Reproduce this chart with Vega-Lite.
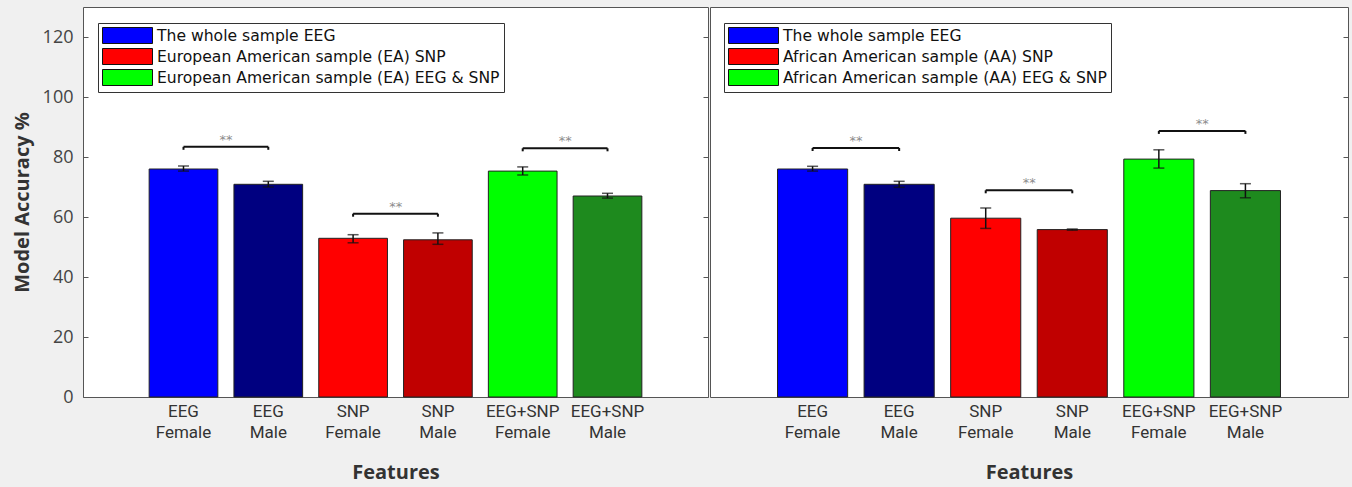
{
  "$schema": "https://vega.github.io/schema/vega-lite/v6.json",
  "background": "#f0f0f0",
  "padding": {"left": 11, "top": 6, "right": 3, "bottom": 4},
  "spacing": 0,
  "datasets": {
    "bars": [
      {"panel": "L", "feature": "EEG Female", "series": "The whole sample EEG", "acc": 76.0, "lo": 75.3, "hi": 77.0},
      {"panel": "L", "feature": "EEG Male", "series": "EEG Male", "acc": 70.9, "lo": 70.0, "hi": 71.9},
      {"panel": "L", "feature": "SNP Female", "series": "European American sample (EA) SNP", "acc": 52.9, "lo": 51.4, "hi": 54.1},
      {"panel": "L", "feature": "SNP Male", "series": "SNP Male", "acc": 52.4, "lo": 50.9, "hi": 54.7},
      {"panel": "L", "feature": "EEG+SNP Female", "series": "European American sample (EA) EEG & SNP", "acc": 75.3, "lo": 74.0, "hi": 76.7},
      {"panel": "L", "feature": "EEG+SNP Male", "series": "EEG+SNP Male", "acc": 67.0, "lo": 66.3, "hi": 67.9},
      {"panel": "R", "feature": "EEG Female", "series": "The whole sample EEG", "acc": 76.0, "lo": 75.3, "hi": 76.9},
      {"panel": "R", "feature": "EEG Male", "series": "EEG Male", "acc": 70.9, "lo": 69.9, "hi": 71.9},
      {"panel": "R", "feature": "SNP Female", "series": "African American sample (AA) SNP", "acc": 59.6, "lo": 56.2, "hi": 63.0},
      {"panel": "R", "feature": "SNP Male", "series": "SNP Male", "acc": 55.8, "lo": 55.6, "hi": 56.0},
      {"panel": "R", "feature": "EEG+SNP Female", "series": "African American sample (AA) EEG & SNP", "acc": 79.3, "lo": 76.3, "hi": 82.4},
      {"panel": "R", "feature": "EEG+SNP Male", "series": "EEG+SNP Male", "acc": 68.8, "lo": 66.4, "hi": 71.1}
    ],
    "brackets": [
      {"panel": "L", "a": "EEG Female", "b": "EEG Male", "y": 83.4, "label": "**"},
      {"panel": "L", "a": "SNP Female", "b": "SNP Male", "y": 61.1, "label": "**"},
      {"panel": "L", "a": "EEG+SNP Female", "b": "EEG+SNP Male", "y": 82.9, "label": "**"},
      {"panel": "R", "a": "EEG Female", "b": "EEG Male", "y": 83.0, "label": "**"},
      {"panel": "R", "a": "SNP Female", "b": "SNP Male", "y": 68.9, "label": "**"},
      {"panel": "R", "a": "EEG+SNP Female", "b": "EEG+SNP Male", "y": 88.7, "label": "**"}
    ]
  },
  "config": {
    "view": {"fill": "white", "stroke": "#555", "strokeWidth": 1},
    "axis": {"grid": false, "domain": false, "tickColor": "#555", "tickWidth": 1},
    "legend": {
      "strokeColor": "#333",
      "fillColor": "white",
      "padding": 4,
      "symbolType": "M-3.125,-1H3.125V1H-3.125Z",
      "symbolSize": 256,
      "symbolStrokeColor": "#111",
      "symbolStrokeWidth": 1,
      "symbolOpacity": 1,
      "symbolOffset": 17,
      "labelOffset": 21,
      "labelFont": "DejaVu Sans",
      "labelFontSize": 15.6,
      "labelColor": "#111",
      "labelLimit": 0,
      "rowPadding": 0,
      "title": null
    }
  },
  "resolve": {"scale": {"color": "independent"}, "legend": {"color": "independent"}},
  "hconcat": [
    {
      "width": 625,
      "height": 390,
      "layer": [
        {
          "data": {"name": "bars"},
          "transform": [{"filter": "datum.panel === 'L'"}],
          "mark": {"type": "bar", "stroke": "#222", "strokeWidth": 1},
          "encoding": {
            "x": {
              "field": "feature", "type": "nominal", "sort": null, "title": "Features",
              "scale": {"domain": ["EEG Female", "EEG Male", "SNP Female", "SNP Male", "EEG+SNP Female", "EEG+SNP Male"], "paddingInner": 0.19, "paddingOuter": 0.78},
              "axis": {"labelExpr": "split(datum.label, ' ')", "labelAngle": 0, "labelFont": "Liberation Sans Narrow, Roboto, sans-serif", "labelFontSize": 17, "labelColor": "#333", "labelLineHeight": 21, "labelBaseline": "top", "tickSize": -4, "labelPadding": 10, "titleFont": "Open Sans", "titleFontSize": 20, "titleFontWeight": "bold", "titleColor": "#333", "titlePadding": 22}
            },
            "y": {
              "field": "acc", "type": "quantitative", "title": "Model Accuracy %",
              "scale": {"domain": [0, 130], "nice": false, "zero": true},
              "axis": {"orient": "left", "values": [0, 20, 40, 60, 80, 100, 120], "labelFont": "Open Sans", "labelFontSize": 18, "labelColor": "#444", "tickSize": -5, "labelPadding": 15, "titleFont": "Open Sans", "titleFontSize": 20, "titleFontWeight": "bold", "titleColor": "#333", "titlePadding": 10}
            },
            "color": {
              "field": "series", "type": "nominal",
              "scale": {"domain": ["The whole sample EEG", "EEG Male", "European American sample (EA) SNP", "SNP Male", "European American sample (EA) EEG & SNP", "EEG+SNP Male"], "range": ["#0000ff", "#000080", "#ff0000", "#c00000", "#00ff00", "#1e8a1e"]},
              "legend": {"values": ["The whole sample EEG", "European American sample (EA) SNP", "European American sample (EA) EEG & SNP"], "orient": "none", "legendX": 15, "legendY": 16}
            }
          }
        },
        {
          "data": {"name": "bars"},
          "transform": [{"filter": "datum.panel === 'L'"}],
          "mark": {"type": "rule", "color": "#111", "strokeWidth": 1.5},
          "encoding": {
            "x": {"field": "feature", "type": "nominal", "sort": null, "bandPosition": 0.5},
            "y": {"field": "lo", "type": "quantitative", "axis": {"orient": "right", "labels": false, "title": null, "values": [0, 20, 40, 60, 80, 100, 120], "tickSize": -5}},
            "y2": {"field": "hi"}
          }
        },
        {
          "data": {"name": "bars"},
          "transform": [{"filter": "datum.panel === 'L'"}],
          "mark": {"type": "tick", "color": "#111", "thickness": 1.5, "size": 11},
          "encoding": {
            "x": {"field": "feature", "type": "nominal", "sort": null},
            "y": {"field": "lo", "type": "quantitative", "axis": null}
          }
        },
        {
          "data": {"name": "bars"},
          "transform": [{"filter": "datum.panel === 'L'"}],
          "mark": {"type": "tick", "color": "#111", "thickness": 1.5, "size": 11},
          "encoding": {
            "x": {"field": "feature", "type": "nominal", "sort": null},
            "y": {"field": "hi", "type": "quantitative", "axis": null}
          }
        },
        {
          "data": {"name": "brackets"},
          "transform": [{"filter": "datum.panel === 'L'"}],
          "mark": {"type": "rule", "color": "#111", "strokeWidth": 2},
          "encoding": {
            "x": {"field": "a", "type": "nominal", "bandPosition": 0.5},
            "x2": {"field": "b", "bandPosition": 0.5},
            "y": {"field": "y", "type": "quantitative", "axis": null}
          }
        },
        {
          "data": {"name": "brackets"},
          "transform": [{"filter": "datum.panel === 'L'"}],
          "mark": {"type": "point", "shape": "M0,0V1", "size": 36, "stroke": "#111", "strokeWidth": 2, "filled": false, "opacity": 1},
          "encoding": {
            "x": {"field": "a", "type": "nominal"},
            "y": {"field": "y", "type": "quantitative", "axis": null}
          }
        },
        {
          "data": {"name": "brackets"},
          "transform": [{"filter": "datum.panel === 'L'"}],
          "mark": {"type": "point", "shape": "M0,0V1", "size": 36, "stroke": "#111", "strokeWidth": 2, "filled": false, "opacity": 1},
          "encoding": {
            "x": {"field": "b", "type": "nominal"},
            "y": {"field": "y", "type": "quantitative", "axis": null}
          }
        },
        {
          "data": {"name": "brackets"},
          "transform": [{"filter": "datum.panel === 'L'"}],
          "mark": {"type": "text", "color": "#8c8c8c", "fontSize": 13, "baseline": "bottom", "dy": 0, "font": "DejaVu Sans"},
          "encoding": {
            "x": {"field": "a", "type": "nominal", "bandPosition": 1.12},
            "y": {"field": "y", "type": "quantitative", "axis": null},
            "text": {"field": "label"}
          }
        }
      ],
      "resolve": {"axis": {"y": "independent"}}
    },
    {
      "width": 638,
      "height": 390,
      "layer": [
        {
          "data": {"name": "bars"},
          "transform": [{"filter": "datum.panel === 'R'"}],
          "mark": {"type": "bar", "stroke": "#222", "strokeWidth": 1},
          "encoding": {
            "x": {
              "field": "feature", "type": "nominal", "sort": null, "title": "Features",
              "scale": {"domain": ["EEG Female", "EEG Male", "SNP Female", "SNP Male", "EEG+SNP Female", "EEG+SNP Male"], "paddingInner": 0.19, "paddingOuter": 0.78},
              "axis": {"labelExpr": "split(datum.label, ' ')", "labelAngle": 0, "labelFont": "Liberation Sans Narrow, Roboto, sans-serif", "labelFontSize": 17, "labelColor": "#333", "labelLineHeight": 21, "labelBaseline": "top", "tickSize": -4, "labelPadding": 10, "titleFont": "Open Sans", "titleFontSize": 20, "titleFontWeight": "bold", "titleColor": "#333", "titlePadding": 22}
            },
            "y": {
              "field": "acc", "type": "quantitative",
              "scale": {"domain": [0, 130], "nice": false, "zero": true},
              "axis": null
            },
            "color": {
              "field": "series", "type": "nominal",
              "scale": {"domain": ["The whole sample EEG", "EEG Male", "African American sample (AA) SNP", "SNP Male", "African American sample (AA) EEG & SNP", "EEG+SNP Male"], "range": ["#0000ff", "#000080", "#ff0000", "#c00000", "#00ff00", "#1e8a1e"]},
              "legend": {"values": ["The whole sample EEG", "African American sample (AA) SNP", "African American sample (AA) EEG & SNP"], "orient": "none", "legendX": 14, "legendY": 16}
            }
          }
        },
        {
          "data": {"name": "bars"},
          "transform": [{"filter": "datum.panel === 'R'"}],
          "mark": {"type": "rule", "color": "#111", "strokeWidth": 1.5},
          "encoding": {
            "x": {"field": "feature", "type": "nominal", "sort": null, "bandPosition": 0.5},
            "y": {"field": "lo", "type": "quantitative", "axis": {"orient": "right", "labels": false, "title": null, "values": [0, 20, 40, 60, 80, 100, 120], "tickSize": -5}},
            "y2": {"field": "hi"}
          }
        },
        {
          "data": {"name": "bars"},
          "transform": [{"filter": "datum.panel === 'R'"}],
          "mark": {"type": "tick", "color": "#111", "thickness": 1.5, "size": 11},
          "encoding": {
            "x": {"field": "feature", "type": "nominal", "sort": null},
            "y": {"field": "lo", "type": "quantitative", "axis": null}
          }
        },
        {
          "data": {"name": "bars"},
          "transform": [{"filter": "datum.panel === 'R'"}],
          "mark": {"type": "tick", "color": "#111", "thickness": 1.5, "size": 11},
          "encoding": {
            "x": {"field": "feature", "type": "nominal", "sort": null},
            "y": {"field": "hi", "type": "quantitative", "axis": null}
          }
        },
        {
          "data": {"name": "brackets"},
          "transform": [{"filter": "datum.panel === 'R'"}],
          "mark": {"type": "rule", "color": "#111", "strokeWidth": 2},
          "encoding": {
            "x": {"field": "a", "type": "nominal", "bandPosition": 0.5},
            "x2": {"field": "b", "bandPosition": 0.5},
            "y": {"field": "y", "type": "quantitative", "axis": null}
          }
        },
        {
          "data": {"name": "brackets"},
          "transform": [{"filter": "datum.panel === 'R'"}],
          "mark": {"type": "point", "shape": "M0,0V1", "size": 36, "stroke": "#111", "strokeWidth": 2, "filled": false, "opacity": 1},
          "encoding": {
            "x": {"field": "a", "type": "nominal"},
            "y": {"field": "y", "type": "quantitative", "axis": null}
          }
        },
        {
          "data": {"name": "brackets"},
          "transform": [{"filter": "datum.panel === 'R'"}],
          "mark": {"type": "point", "shape": "M0,0V1", "size": 36, "stroke": "#111", "strokeWidth": 2, "filled": false, "opacity": 1},
          "encoding": {
            "x": {"field": "b", "type": "nominal"},
            "y": {"field": "y", "type": "quantitative", "axis": null}
          }
        },
        {
          "data": {"name": "brackets"},
          "transform": [{"filter": "datum.panel === 'R'"}],
          "mark": {"type": "text", "color": "#8c8c8c", "fontSize": 13, "baseline": "bottom", "dy": 0, "font": "DejaVu Sans"},
          "encoding": {
            "x": {"field": "a", "type": "nominal", "bandPosition": 1.12},
            "y": {"field": "y", "type": "quantitative", "axis": null},
            "text": {"field": "label"}
          }
        }
      ],
      "resolve": {"axis": {"y": "independent"}}
    }
  ]
}
